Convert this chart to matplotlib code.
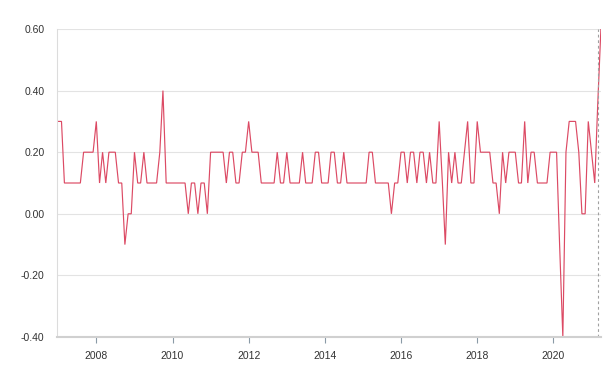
import matplotlib
matplotlib.use("Agg")
import matplotlib.pyplot as plt
import pandas as pd

plt.rcParams['font.family'] = ['Liberation Sans', 'DejaVu Sans']

start_month = "2007-01-01"
values = [
    0.3, 0.3, 0.1, 0.1, 0.1, 0.1, 0.1, 0.1, 0.2, 0.2, 0.2, 0.2,      # 2007
    0.3, 0.1, 0.2, 0.1, 0.2, 0.2, 0.2, 0.1, 0.1, -0.1, 0.0, 0.0,     # 2008
    0.2, 0.1, 0.1, 0.2, 0.1, 0.1, 0.1, 0.1, 0.2, 0.4, 0.1, 0.1,      # 2009
    0.1, 0.1, 0.1, 0.1, 0.1, 0.0, 0.1, 0.1, 0.0, 0.1, 0.1, 0.0,      # 2010
    0.2, 0.2, 0.2, 0.2, 0.2, 0.1, 0.2, 0.2, 0.1, 0.1, 0.2, 0.2,      # 2011
    0.3, 0.2, 0.2, 0.2, 0.1, 0.1, 0.1, 0.1, 0.1, 0.2, 0.1, 0.1,      # 2012
    0.2, 0.1, 0.1, 0.1, 0.1, 0.2, 0.1, 0.1, 0.1, 0.2, 0.2, 0.1,      # 2013
    0.1, 0.1, 0.2, 0.2, 0.1, 0.1, 0.2, 0.1, 0.1, 0.1, 0.1, 0.1,      # 2014
    0.1, 0.1, 0.2, 0.2, 0.1, 0.1, 0.1, 0.1, 0.1, 0.0, 0.1, 0.1,      # 2015
    0.2, 0.2, 0.1, 0.2, 0.2, 0.1, 0.2, 0.2, 0.1, 0.2, 0.1, 0.1,      # 2016
    0.3, 0.1, -0.1, 0.2, 0.1, 0.2, 0.1, 0.1, 0.2, 0.3, 0.1, 0.1,     # 2017
    0.3, 0.2, 0.2, 0.2, 0.2, 0.1, 0.1, 0.0, 0.2, 0.1, 0.2, 0.2,      # 2018
    0.2, 0.1, 0.1, 0.3, 0.1, 0.2, 0.2, 0.1, 0.1, 0.1, 0.1, 0.2,      # 2019
    0.2, 0.2, -0.1, -0.4, 0.2, 0.3, 0.3, 0.3, 0.2, 0.0, 0.0, 0.3,    # 2020
    0.2, 0.1, 0.35, 0.6,                                             # 2021
]
marker_date = "2021-03-01"
y_ticks = [-0.4, -0.2, 0.0, 0.2, 0.4, 0.6]
x_tick_years = [2008, 2010, 2012, 2014, 2016, 2018, 2020]

dates = pd.date_range(start_month, periods=len(values), freq="MS")

fig = plt.figure(figsize=(6.11, 3.79), dpi=100)
ax = fig.add_axes([57 / 611, 1 - 337 / 379, (601 - 57) / 611, (337 - 29) / 379])

ax.plot(dates, values, color="#dc4a64", linewidth=0.85, solid_joinstyle="miter")
ax.axvline(pd.Timestamp(marker_date), color="#a0a0a0", linestyle=(0, (2.5, 2.5)), linewidth=0.8)

ax.set_ylim(-0.4, 0.6)
ax.set_xlim(pd.Timestamp("2006-12-20"), dates[-1] + pd.Timedelta(days=1))
ax.set_yticks(y_ticks)
ax.set_yticklabels([f"{v:.2f}" for v in y_ticks])
ax.set_xticks([pd.Timestamp(f"{y}-01-01") for y in x_tick_years])
ax.set_xticklabels([str(y) for y in x_tick_years])

ax.grid(axis="y", color="#e3e3e3", linewidth=0.8)
ax.set_axisbelow(True)
for s in ["top", "right"]:
    ax.spines[s].set_visible(False)
ax.spines["left"].set_color("#dcdcdc")
ax.spines["left"].set_linewidth(0.8)
ax.spines["bottom"].set_color("#d0d0d0")
ax.spines["bottom"].set_linewidth(1.5)

ax.tick_params(axis="y", length=0, pad=9, labelsize=7.5, labelcolor="#333333")
ax.tick_params(axis="x", length=4, width=0.8, color="#8a9aa6", pad=6,
               labelsize=7.5, labelcolor="#333333")

fig.savefig("out.png", dpi=100)
